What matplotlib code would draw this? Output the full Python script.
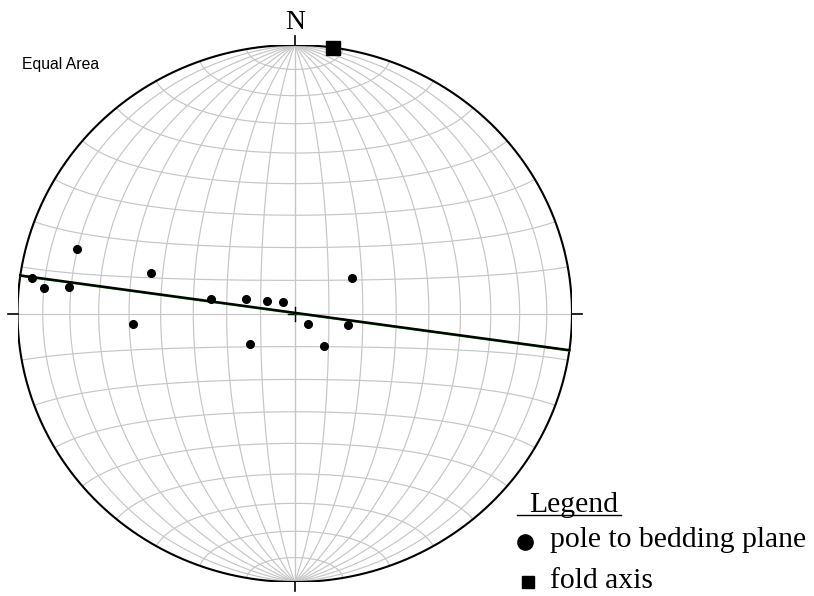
import numpy as np
import matplotlib
matplotlib.use("Agg")
import matplotlib.pyplot as plt
from matplotlib.lines import Line2D
from matplotlib.transforms import ScaledTranslation

# Poles to bedding (trend, plunge in degrees)
pole_trend = [278, 276, 277, 287, 286, 266, 280, 287, 295, 315, 130, 235, 139, 103, 57]
pole_plunge = [5, 10, 19, 19, 45, 41, 65, 75, 81, 85, 85, 74, 77, 74, 70]

# Fold axis (trend, plunge)
fold_trend = [8]
fold_plunge = [0]

# Best-fit girdle (strike, dip; right-hand rule)
girdle_strike = 98
girdle_dip = 90

legend_labels = ["pole to bedding plane", "fold axis"]


def line_vec(trend, plunge):
    t, p = np.radians(trend), np.radians(plunge)
    return np.array([np.cos(p) * np.cos(t), np.cos(p) * np.sin(t), np.sin(p)])


def project(v):
    """Lambert equal-area, lower hemisphere; v = (north, east, down)."""
    v = np.asarray(v, dtype=float)
    n, e, d = v[0], v[1], v[2]
    flip = d < 0
    n = np.where(flip, -n, n)
    e = np.where(flip, -e, e)
    d = np.abs(d)
    s = 1.0 / np.sqrt(1.0 + d)
    return e * s, n * s


def plane_curve(strike, dip, n=361):
    s = np.radians(strike)
    dd = np.radians(dip)
    sv = np.array([np.cos(s), np.sin(s), 0.0])
    ddir = s + np.pi / 2
    dv = np.array([np.cos(dd) * np.cos(ddir), np.cos(dd) * np.sin(ddir), np.sin(dd)])
    rk = np.linspace(0, np.pi, n)
    v = np.outer(sv, np.cos(rk)) + np.outer(dv, np.sin(rk))
    return project(v)


def small_circle_ns(cone, n=361):
    c = np.radians(cone)
    phi = np.linspace(0, np.pi, n)
    v = np.array([np.full_like(phi, np.cos(c)), np.sin(c) * np.cos(phi), np.sin(c) * np.sin(phi)])
    return project(v)


W, H = 814, 596
fig = plt.figure(figsize=(W / 100, H / 100), dpi=100)
fig.patch.set_facecolor("white")

# net occupies a slightly wider-than-tall box
L, R, T, B = 17.5, 572.0, 45.0, 582.0
ax = fig.add_axes([L / W, (H - B) / H, (R - L) / W, (B - T) / H])
ax.set_xlim(-1, 1)
ax.set_ylim(-1, 1)
ax.set_aspect("auto")
ax.axis("off")

grid_kw = dict(color="#c6c6c6", lw=0.85, zorder=1)
# meridians (great circles through N and S)
for dip in range(10, 91, 10):
    for st in (0, 180):
        x, y = plane_curve(st, dip)
        ax.plot(x, y, **grid_kw)
# parallels (small circles about the N-S axis)
for cone in range(10, 180, 10):
    x, y = small_circle_ns(cone)
    ax.plot(x, y, **grid_kw)

# primitive circle
th = np.linspace(0, 2 * np.pi, 721)
ax.plot(np.cos(th), np.sin(th), color="black", lw=1.5, zorder=3)

# ticks at cardinal points and centre cross
tx, ty = 10 / (R - L) * 2, 9 / (B - T) * 2
for xs, ys in [([-1 - tx, -1], [0, 0]), ([1, 1 + tx], [0, 0]),
               ([0, 0], [1, 1 + ty]), ([0, 0], [-1, -1 - ty])]:
    ax.plot(xs, ys, color="black", lw=1.2, clip_on=False, zorder=3)
cx, cy = 7 / (R - L) * 2, 7 / (B - T) * 2
ax.plot([-cx, cx], [0, 0], color="black", lw=1.0, zorder=3)
ax.plot([0, 0], [-cy, cy], color="black", lw=1.0, zorder=3)

# girdle
gx, gy = plane_curve(girdle_strike, girdle_dip)
ax.plot(gx, gy, color="#22bb22", lw=1.2, zorder=4)
shift = ax.transData + ScaledTranslation(0, 0.7 / 100, fig.dpi_scale_trans)
ax.plot(gx, gy, color="black", lw=1.8, zorder=5, transform=shift)

# poles
px, py = project(np.array([line_vec(t, p) for t, p in zip(pole_trend, pole_plunge)]).T)
ax.plot(px, py, "o", color="black", ms=5.5, zorder=6)

# fold axis
fx, fy = project(np.array([line_vec(t, p) for t, p in zip(fold_trend, fold_plunge)]).T)
ax.plot(fx, fy, "s", color="black", ms=9.5, zorder=7, clip_on=False)

serif = ["Liberation Serif", "DejaVu Serif"]
sans = ["Liberation Sans", "DejaVu Sans"]

fig.text(295 / W, 1 - 22.5 / H, "N", family=serif, fontsize=20, ha="center", va="center")
fig.text(22 / W, 1 - 64 / H, "Equal Area", family=sans, fontsize=11.3, ha="left", va="center")

# legend block
fs = 21.3
fig.text(529 / W, 1 - 511.5 / H, "Legend", family=serif, fontsize=fs, ha="left", va="baseline")
fig.add_artist(Line2D([517 / W, 621 / W], [1 - 514.5 / H, 1 - 514.5 / H],
                      color="black", lw=1.0, transform=fig.transFigure))
fig.add_artist(Line2D([525 / W], [1 - 541.5 / H], marker="o", ms=11, color="black",
                      transform=fig.transFigure))
fig.text(550 / W, 1 - 547 / H, legend_labels[0], family=serif, fontsize=fs,
         ha="left", va="baseline")
fig.add_artist(Line2D([528 / W], [1 - 581.5 / H], marker="s", ms=9, color="black",
                      transform=fig.transFigure))
fig.text(550 / W, 1 - 588 / H, legend_labels[1], family=serif, fontsize=fs,
         ha="left", va="baseline")

fig.savefig("out.png", dpi=100, facecolor="white")
